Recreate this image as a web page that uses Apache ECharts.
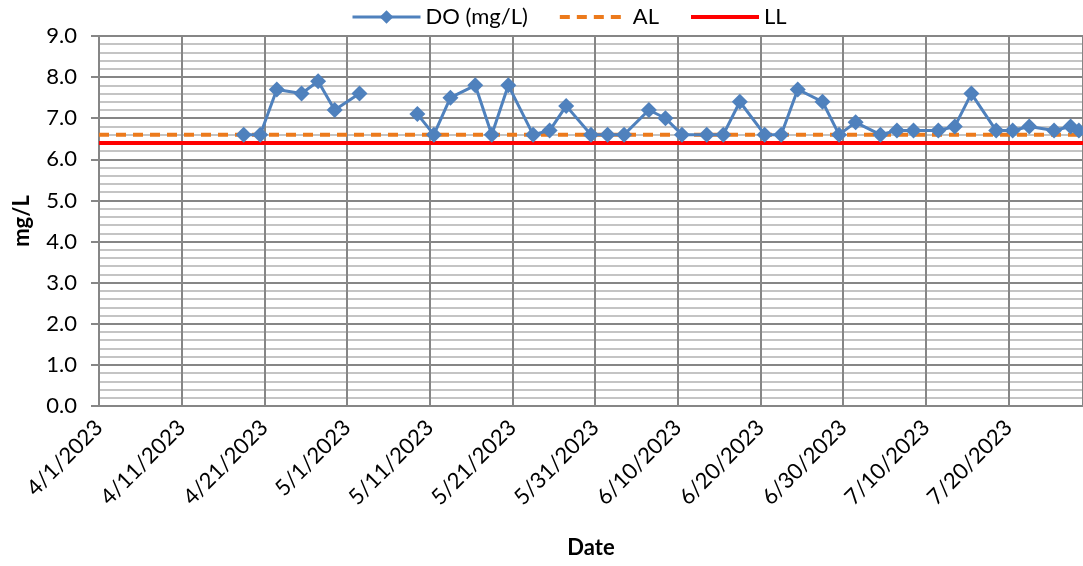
<!DOCTYPE html>
<html>
<head>
<meta charset="utf-8">
<script src="https://cdn.jsdelivr.net/npm/echarts@6/dist/echarts.min.js"></script>
<style>
  html, body { margin: 0; padding: 0; background: #fff; }
  #chart { width: 1083px; height: 566px; }
</style>
</head>
<body>
<div id="chart"></div>
<script>
// sample dates and DO readings (null = no sample, breaks the line)
var sampleDates = [
  "4/18/2023", "4/20/2023", "4/22/2023", "4/25/2023", "4/27/2023", "4/29/2023", "5/2/2023",
  "5/6/2023",
  "5/9/2023", "5/11/2023", "5/13/2023", "5/16/2023", "5/18/2023", "5/20/2023", "5/23/2023",
  "5/25/2023", "5/27/2023", "5/30/2023", "6/1/2023", "6/3/2023", "6/6/2023", "6/8/2023",
  "6/10/2023", "6/13/2023", "6/15/2023", "6/17/2023", "6/20/2023", "6/22/2023", "6/24/2023",
  "6/27/2023", "6/29/2023", "7/1/2023", "7/4/2023", "7/6/2023", "7/8/2023", "7/11/2023",
  "7/13/2023", "7/15/2023", "7/18/2023", "7/20/2023", "7/22/2023", "7/25/2023", "7/27/2023",
  "7/28/2023"
];
var doValues = [
  6.6, 6.6, 7.7, 7.6, 7.9, 7.2, 7.6,
  null,
  7.1, 6.6, 7.5, 7.8, 6.6, 7.8, 6.6,
  6.7, 7.3, 6.6, 6.6, 6.6, 7.2, 7.0,
  6.6, 6.6, 6.6, 7.4, 6.6, 6.6, 7.7,
  7.4, 6.6, 6.9, 6.6, 6.7, 6.7, 6.7,
  6.8, 7.6, 6.7, 6.7, 6.8, 6.7, 6.8,
  6.7
];
var alLevel = 6.6;
var llLevel = 6.4;

// x axis: days since 4/1/2023
var startDate = "4/1/2023";
var axisDays = 119;
var yTicks = [0, 9];

function toDays(s) {
  var p = s.split("/");
  var s0 = startDate.split("/");
  var t = Date.UTC(+p[2], +p[0] - 1, +p[1]);
  var t0 = Date.UTC(+s0[2], +s0[0] - 1, +s0[1]);
  return Math.round((t - t0) / 86400000);
}
function dayLabel(d) {
  var s0 = startDate.split("/");
  var dt = new Date(Date.UTC(+s0[2], +s0[0] - 1, +s0[1]) + d * 86400000);
  return (dt.getUTCMonth() + 1) + "/" + dt.getUTCDate() + "/" + dt.getUTCFullYear();
}

var font = "Lato";
var chart = echarts.init(document.getElementById("chart"));

// excel date axis puts each day in the middle of its slot
var doData = sampleDates.map(function (d, i) {
  return [toDays(d) + 0.5, doValues[i] == null ? "-" : doValues[i]];
});

var option = {
  animation: false,
  textStyle: { fontFamily: font },
  legend: {
    top: 1,
    left: 346,
    itemWidth: 68,
    itemHeight: 17,
    itemGap: 30,
    textStyle: { fontFamily: font, fontSize: 22, color: "#000" },
    data: [
      { name: "DO (mg/L)", lineStyle: { width: 3 } },
      { name: "AL", lineStyle: { width: 4 } },
      { name: "LL", lineStyle: { width: 4 } }
    ]
  },
  grid: { left: 99, right: 0, top: 36, bottom: 160 },
  xAxis: {
    type: "value",
    min: 0,
    max: axisDays,
    interval: 10,
    name: "Date",
    nameLocation: "middle",
    nameGap: 131,
    nameTextStyle: { fontFamily: font, fontSize: 22, fontWeight: "bold", color: "#000" },
    axisLine: { lineStyle: { color: "#868686", width: 2 } },
    axisTick: { show: false },
    axisLabel: {
      rotate: 45,
      margin: 18,
      fontSize: 22,
      color: "#000",
      showMaxLabel: false,
      formatter: function (v) { return dayLabel(v); }
    },
    splitLine: { show: true, lineStyle: { color: "#868686", width: 2 } }
  },
  yAxis: {
    type: "value",
    min: yTicks[0],
    max: yTicks[1],
    interval: 1,
    name: "mg/L",
    nameLocation: "middle",
    nameGap: 66,
    nameTextStyle: { fontFamily: font, fontSize: 22, fontWeight: "bold", color: "#000" },
    axisLine: { show: true, lineStyle: { color: "#868686", width: 2 } },
    axisTick: { show: true, length: 8, lineStyle: { color: "#868686", width: 2 } },
    axisLabel: {
      margin: 22,
      fontSize: 22,
      color: "#000",
      formatter: function (v) { return v.toFixed(1); }
    },
    splitLine: { show: true, lineStyle: { color: "#868686", width: 2 } },
    minorTick: { show: false, splitNumber: 5 },
    minorSplitLine: { show: true, lineStyle: { color: "#c4c4c4", width: 2 } }
  },
  series: [
    {
      name: "AL",
      type: "line",
      data: [[0, alLevel], [axisDays, alLevel]],
      symbol: "none",
      // transparent item colour hides the legend's default dot
      itemStyle: { color: "rgba(0,0,0,0)" },
      lineStyle: { color: "#ec7a1c", width: 4, type: [10, 7] },
      z: 3
    },
    {
      name: "LL",
      type: "line",
      data: [[0, llLevel], [axisDays, llLevel]],
      symbol: "none",
      itemStyle: { color: "rgba(0,0,0,0)" },
      lineStyle: { color: "#ff0000", width: 4 },
      z: 3
    },
    {
      name: "DO (mg/L)",
      type: "line",
      data: doData,
      connectNulls: false,
      symbol: "diamond",
      symbolSize: 16,
      showAllSymbol: true,
      color: "#4f81bd",
      itemStyle: { color: "#4f81bd" },
      lineStyle: { color: "#4f81bd", width: 3 },
      z: 4
    }
  ]
};

chart.setOption(option);
</script>
</body>
</html>
